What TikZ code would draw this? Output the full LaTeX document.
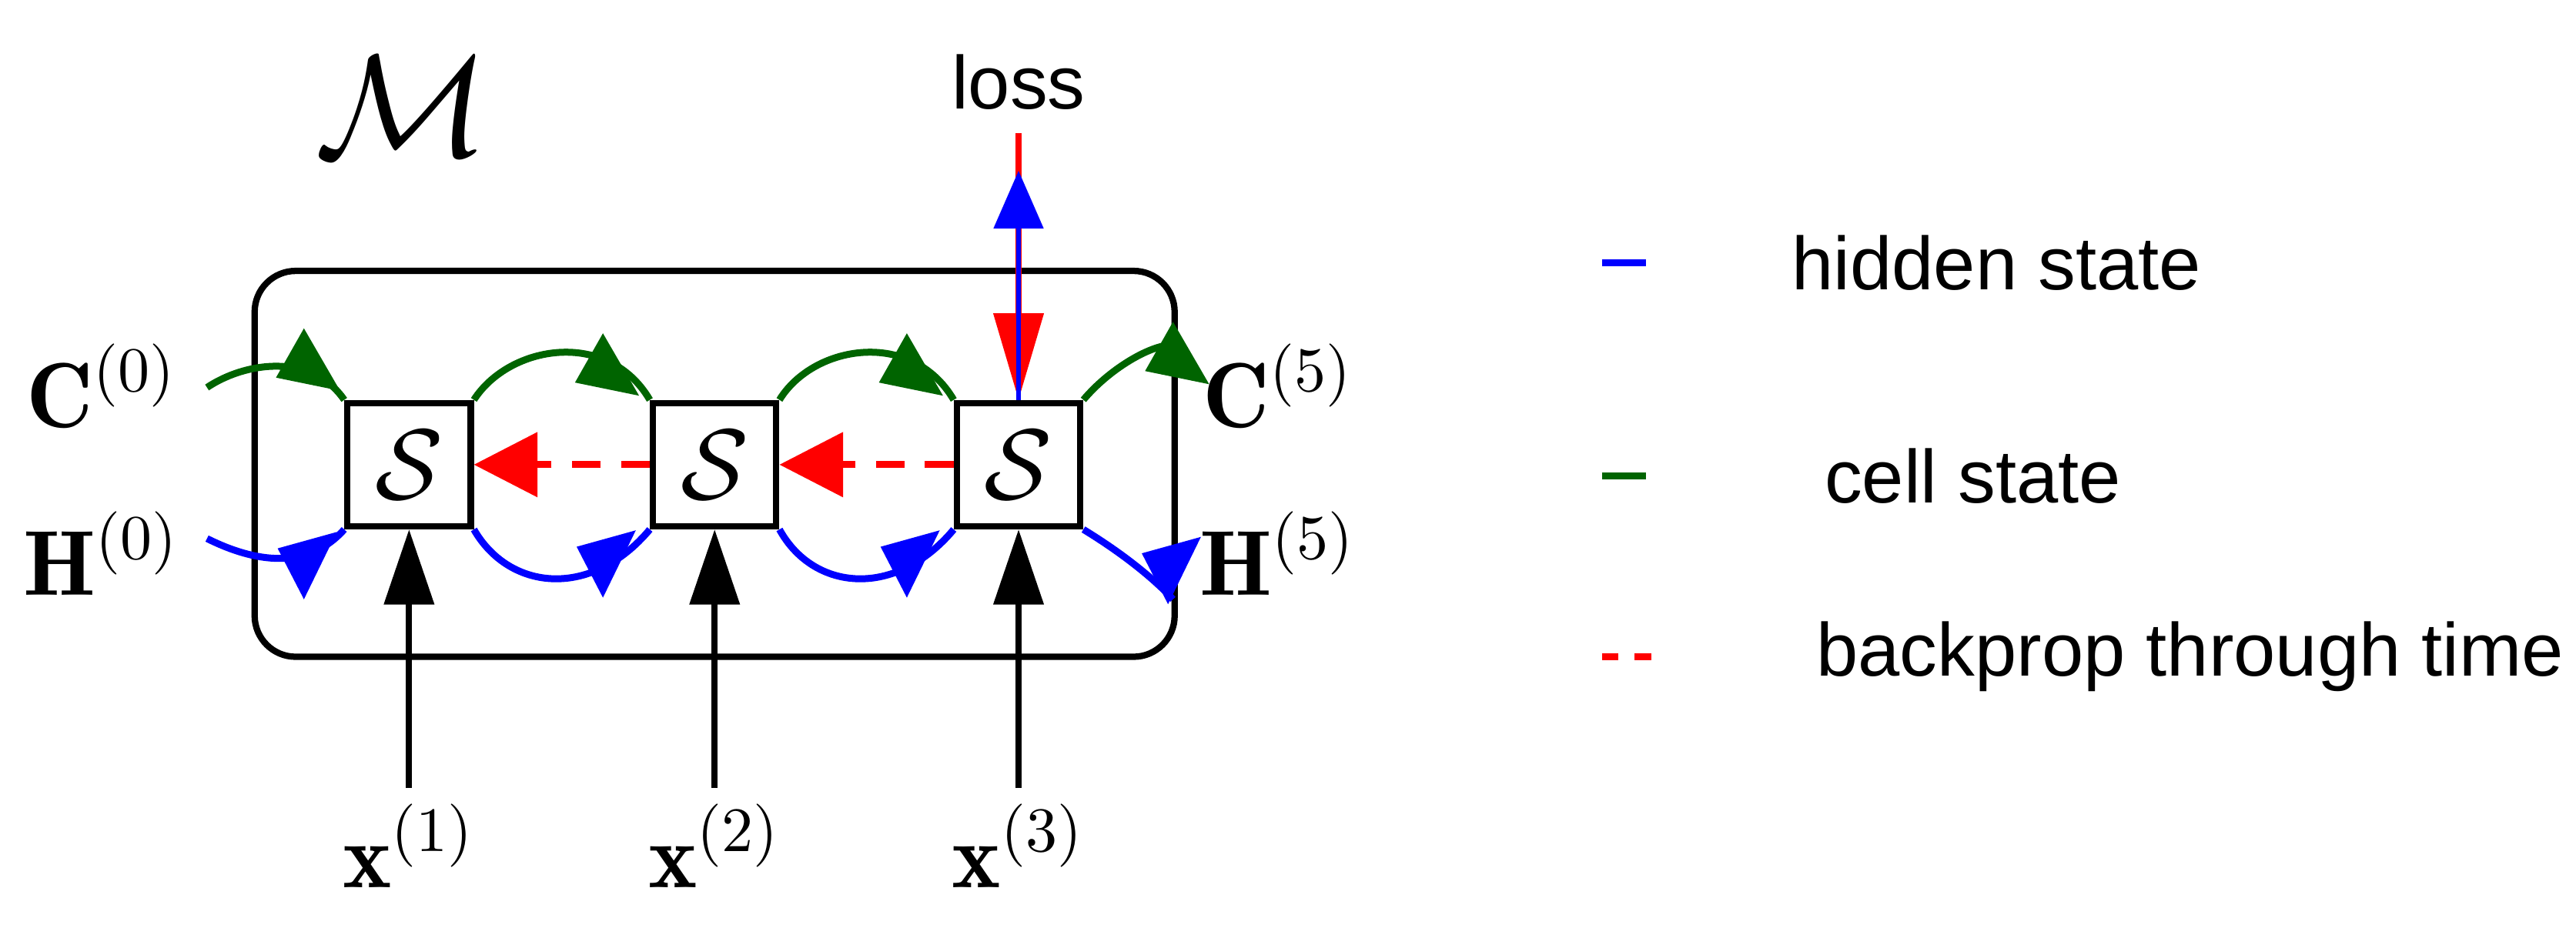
\documentclass[tikz,border=0pt]{standalone}
\usepackage{fontspec}
\usepackage{amsmath}
\setsansfont{Liberation Sans}
\usetikzlibrary{arrows.meta}
\definecolor{gr}{RGB}{0,100,0}
\begin{document}
\begin{tikzpicture}[x=0.01cm,y=0.01cm,
  cell/.style={draw,line width=1.1pt,minimum size=0.75cm,inner sep=0pt,font=\fontsize{17}{20}\selectfont},
  lab/.style={font=\fontsize{16}{19}\selectfont,inner sep=0pt},
  leg/.style={font=\sffamily\fontsize{13}{15}\selectfont,anchor=west,inner sep=0pt},
  hid/.style={blue,line width=1.2pt},
  cel/.style={gr,line width=1.2pt},
  bp/.style={red,line width=1.2pt,dash pattern=on 5pt off 3.5pt,-{Triangle[length=11pt,width=11pt]}},
  inp/.style={line width=1.1pt,-{Triangle[length=13pt,width=8.5pt]}}]
\useasboundingbox (0,0) rectangle (1568,565);
% outer box
\draw[line width=1.1pt,rounded corners=0.25cm] (155,165) rectangle (715,400);
\node[lab] at (245,500) {$\scalebox{1.45}{$\mathcal{M}$}$};
% cells
\node[cell] (s1) at (249,282) {$\mathcal{S}$};
\node[cell] (s2) at (435,282) {$\mathcal{S}$};
\node[cell] (s3) at (620,282) {$\mathcal{S}$};
% labels
\node[lab] (c0) at (62,330) {$\mathbf{C}^{(0)}$};
\node[lab] (h0) at (62,228) {$\mathbf{H}^{(0)}$};
\node[lab] (c5) at (778,330) {$\mathbf{C}^{(5)}$};
\node[lab] (h5) at (778,228) {$\mathbf{H}^{(5)}$};
\node[lab] (x1) at (249,50) {$\mathbf{x}^{(1)}$};
\node[lab] (x2) at (435,50) {$\mathbf{x}^{(2)}$};
\node[lab] (x3) at (620,50) {$\mathbf{x}^{(3)}$};
\node[font=\sffamily\fontsize{13}{15}\selectfont,inner sep=0pt] (loss) at (620,515) {loss};
\coordinate (cin) at (126,329);
\coordinate (hin) at (126,237);
\coordinate (cout) at (714,355);
\coordinate (hout) at (714,200);
\coordinate (lt) at (620,484);
\coordinate (lb) at (620,461);
% green curves
\draw[cel] (cin) .. controls (150,345) and (190,350) .. (s1.north west);
\draw[cel] (s1.north east) .. controls (310,355) and (370,365) .. (s2.north west);
\draw[cel] (s2.north east) .. controls (495,355) and (555,365) .. (s3.north west);
\draw[cel] (s3.north east) .. controls (675,340) and (700,355) .. (cout);
% blue curves
\draw[hid] (hin) .. controls (150,225) and (185,215) .. (s1.south west);
\draw[hid] (s1.south east) .. controls (310,205) and (360,200) .. (s2.south west);
\draw[hid] (s2.south east) .. controls (495,205) and (545,200) .. (s3.south west);
\draw[hid] (s3.south east) .. controls (680,230) and (700,215) .. (hout);
% tips
\foreach \x/\y in {185/365,367/362,552/362,714/369}
  \fill[gr] (\x,\y) -- (\x-17,\y-30) -- (\x+22,\y-38) -- cycle;
\foreach \x/\y in {185/200,367/201,552/201,711/197}
  \fill[blue] (\x,\y) -- (\x-16,\y+31) -- (\x+20,\y+41) -- cycle;
% backprop
\draw[bp] (s2.west) -- (s1.east);
\draw[bp] (s3.west) -- (s2.east);
% loss
\draw[red,line width=1.1pt,-{Triangle[length=15pt,width=8.5pt]}] (lt) -- (s3.north);
\draw[blue,line width=0.8pt,-{Triangle[length=10pt,width=8.5pt]}] (s3.north) -- (lb);
% inputs
\coordinate (i1) at (249,85);\coordinate (i2) at (435,85);\coordinate (i3) at (620,85);
\draw[inp] (i1) -- (s1.south);
\draw[inp] (i2) -- (s2.south);
\draw[inp] (i3) -- (s3.south);
% legend
\coordinate (la1) at (975,405);\coordinate (lb1) at (1002,405);
\coordinate (la2) at (975,275);\coordinate (lb2) at (1002,275);
\draw[blue,line width=1.2pt] (la1) -- (lb1);
\draw[gr,line width=1.2pt] (la2) -- (lb2);
\draw[red,line width=1.2pt] (975,165) -- (985,165) (995,165) -- (1005,165);
\node[leg] (t1) at (1090,405) {hidden state};
\node[leg] (t2) at (1110,275) {cell state};
\node[leg] (t3) at (1105,165) {backprop through time};
\end{tikzpicture}
\end{document}
